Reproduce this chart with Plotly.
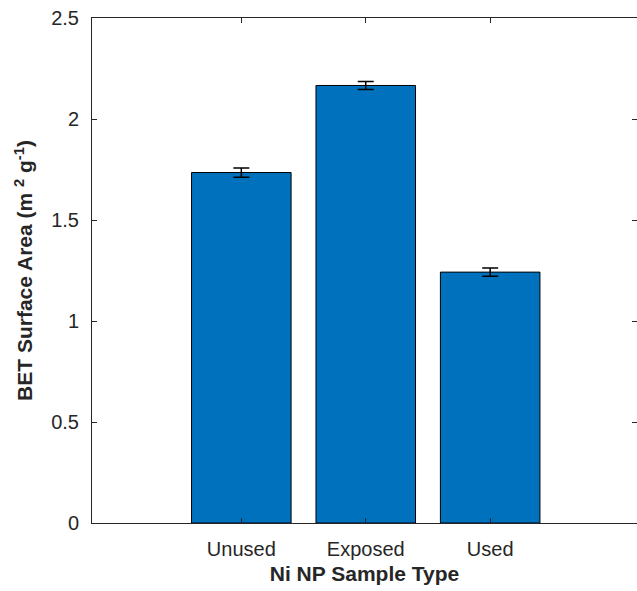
import plotly.graph_objects as go

categories = ["Unused", "Exposed", "Used"]
positions = [1, 2, 3]
bet_area = [1.735, 2.166, 1.242]
bet_err = [0.023, 0.02, 0.02]
y_ticks = [0, 0.5, 1, 1.5, 2, 2.5]
y_ticklabels = ["0", "0.5", "1", "1.5", "2", "2.5"]

fig = go.Figure()
fig.add_trace(go.Bar(
    x=positions, y=bet_area, width=0.8,
    marker=dict(color="#0072BD", line=dict(color="#000000", width=1)),
    error_y=dict(type="data", array=bet_err, visible=True, color="#000000",
                 thickness=1.5, width=8),
    showlegend=False,
))

axis_color = "#262626"
fig.update_layout(
    width=637, height=591,
    margin=dict(l=92, r=0, t=18, b=68),
    plot_bgcolor="white", paper_bgcolor="white",
    font=dict(family="Liberation Sans, Arial, sans-serif", size=20, color=axis_color),
    xaxis=dict(
        range=[-0.2, 4.18], tickmode="array", tickvals=positions, ticktext=categories,
        ticks="inside", ticklen=5, tickcolor=axis_color, tickwidth=1,
        showline=True, linecolor=axis_color, linewidth=1, mirror="ticks",
        showgrid=False, zeroline=False, ticklabelstandoff=8,
        tickfont=dict(size=20, color=axis_color),
        title=dict(text="<b>Ni NP Sample Type</b>", font=dict(size=21, color=axis_color), standoff=7),
    ),
    yaxis=dict(
        range=[0, 2.5], tickmode="array", tickvals=y_ticks, ticktext=y_ticklabels,
        ticks="inside", ticklen=5, tickcolor=axis_color, tickwidth=1,
        showline=True, linecolor=axis_color, linewidth=1, mirror="ticks",
        showgrid=False, zeroline=False, ticklabelstandoff=8,
        tickfont=dict(size=20, color=axis_color),
        title=dict(text="<b>BET Surface Area (m <sup>2</sup> g<sup>-1</sup>)</b>",
                   font=dict(size=21, color=axis_color), standoff=12),
    ),
)

fig.write_html("out.html")
